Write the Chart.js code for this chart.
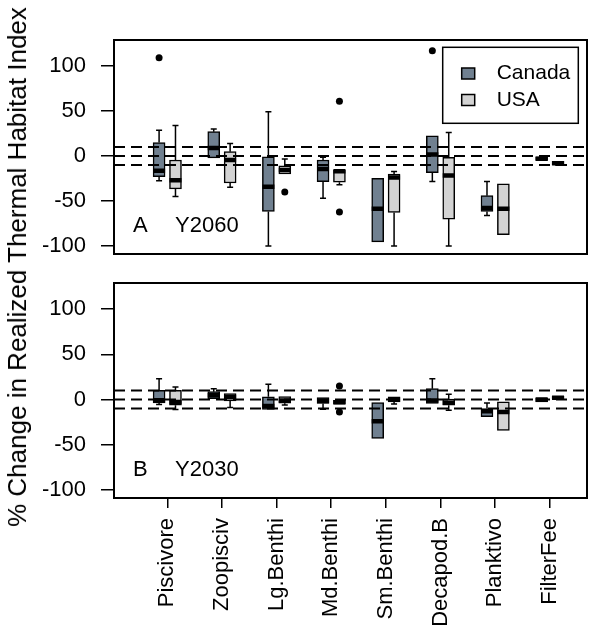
<!DOCTYPE html>
<html>
<head>
<meta charset="utf-8">
<script src="https://cdn.jsdelivr.net/npm/chart.js@4.4.1/dist/chart.umd.min.js"></script>
<style>
  body { margin: 0; background: #fff; }
  #wrap { position: relative; width: 593px; height: 643px; }
  canvas { position: absolute; left: 0; }
  #ytitle {
    position: absolute; left: 17px; top: 267px;
    transform: translate(-50%, -50%) rotate(-90deg);
    font: 26px "Liberation Sans", Arial, sans-serif;
    white-space: nowrap; line-height: 1; color: #000;
  }
</style>
</head>
<body>
<div id="wrap">
  <canvas id="panelA" width="593" height="262" style="top:0"></canvas>
  <canvas id="panelB" width="593" height="381" style="top:262px"></canvas>
  <div id="ytitle">% Change in Realized Thermal Habitat Index</div>
</div>
<script>
const groups = ['Piscivore', 'Zoopisciv', 'Lg.Benthi', 'Md.Benthi', 'Sm.Benthi', 'Decapod.B', 'Planktivo', 'FilterFee'];
const series = ['Canada', 'USA'];
const seriesColors = ['#708090', '#d3d3d3'];
const refLines = [10, 0, -10];
const yTicks = [-100, -50, 0, 50, 100];

// box stats per group: [lower whisker, q1, median, q3, upper whisker]
const canada2060 = [
  [-27.6, -23, -16.5, 15, 28.7],
  [-2, -2, 9, 27, 30],
  [-100, -61.5, -34, 0, 49],
  [-46.8, -28.4, -14.4, -4.4, -1.5],
  [-95.4, -95.4, -58.6, -24.7, -24.7],
  [-28.4, -18.4, 1.8, 22.5, 22.5],
  [-66, -61.5, -57.8, -44, -28.4],
  [-5, -5, -3, -1, -1]
];
const usa2060 = [
  [-45, -36.5, -27, -4.4, 34],
  [-34.6, -30, -4.4, 4.8, 14],
  [-20, -20, -15.5, -11, -3.3],
  [-32, -29, -17, -15.5, -15.5],
  [-100, -62.6, -24, -20, -17.3],
  [-100, -70, -21.7, -1.5, 26],
  [-87.3, -87.3, -58.6, -31, -31],
  [-10, -9.5, -8, -6, -6]
];
const canada2060Out = [[109], [], [], [], [], [117], [], []];
const usa2060Out = [[], [], [-40], [60.8, -62.2], [], [], [], []];

const canada2030 = [
  [-5.5, -3.7, -0.8, 10.3, 23],
  [1, 1, 4.7, 8.7, 12],
  [-11, -11, -7, 3, 17],
  [-10.7, -4.4, -1.5, 2.2, 2.2],
  [-43, -43, -24, -3.3, -3.3],
  [-4.4, -4.4, -1, 12, 23],
  [-19, -19, -13, -10, -3.7],
  [-2.5, -2.5, 0, 1.5, 1.5]
];
const usa2030 = [
  [-11, -6.3, -2.6, 10.3, 14],
  [-8.8, -1.5, 2.9, 6.6, 6.6],
  [-6, -4, -1, 3.3, 3.3],
  [-5, -5, -3, 0, 0],
  [-5, -2.6, 0, 2.9, 2.9],
  [-11.8, -6.3, -3.6, 0.5, 5.9],
  [-34, -34, -13.7, -2.6, -2.6],
  [0, 0, 2, 3.5, 3.5]
];
const canada2030Out = [[], [], [], [], [], [], [], []];
const usa2030Out = [[], [], [], [15, -13.7], [], [], [], []];

const FONT = '"Liberation Sans", Arial, sans-serif';
const X_MIN = 0.025, X_MAX = 8.68;
const Y_MIN = -108.8, Y_MAX = 128.8;
const SHIFT = 0.15, HALF_BOX = 0.11, HALF_CAP = 0.055;

function boxData(stats, shift) {
  return stats.map((s, i) => ({x: i + 1 + shift, y: [s[1], s[3]]}));
}

function medianData(stats, shift) {
  const pts = [];
  stats.forEach((s, i) => {
    const c = i + 1 + shift;
    pts.push({x: c - HALF_BOX, y: s[2]}, {x: c + HALF_BOX, y: s[2]}, {x: c, y: null});
  });
  return pts;
}

function whiskerData(stats, shift) {
  const pts = [];
  stats.forEach((s, i) => {
    const c = i + 1 + shift;
    if (s[4] > s[3]) {
      pts.push({x: c, y: s[3]}, {x: c, y: s[4]}, {x: c, y: null});
      pts.push({x: c - HALF_CAP, y: s[4]}, {x: c + HALF_CAP, y: s[4]}, {x: c, y: null});
    }
    if (s[0] < s[1]) {
      pts.push({x: c, y: s[1]}, {x: c, y: s[0]}, {x: c, y: null});
      pts.push({x: c - HALF_CAP, y: s[0]}, {x: c + HALF_CAP, y: s[0]}, {x: c, y: null});
    }
  });
  return pts;
}

function outlierData(outs, shift) {
  const pts = [];
  outs.forEach((list, i) => list.forEach(v => pts.push({x: i + 1 + shift, y: v})));
  return pts;
}

function refData() {
  const pts = [];
  refLines.forEach(v => pts.push({x: X_MIN, y: v}, {x: X_MAX, y: v}, {x: X_MAX, y: null}));
  return pts;
}

const panelDecor = {
  id: 'panelDecor',
  afterDraw(chart, args, opts) {
    const {ctx, chartArea: a} = chart;
    ctx.save();
    ctx.strokeStyle = '#000';
    ctx.lineWidth = 2;
    ctx.strokeRect(a.left, a.top, a.right - a.left, a.bottom - a.top);

    ctx.fillStyle = '#000';
    ctx.font = '22px ' + FONT;
    ctx.textBaseline = 'middle';
    ctx.fillText(opts.letter, a.left + 19, a.bottom - 28.5);
    ctx.fillText(opts.year, a.left + 61, a.bottom - 28.5);

    if (opts.legend) {
      const left = a.right - 144.3, top = a.top + 7.3;
      ctx.font = '21px ' + FONT;
      ctx.fillStyle = '#fff';
      ctx.fillRect(left, top, 135.6, 76);
      ctx.lineWidth = 1.5;
      ctx.strokeRect(left, top, 135.6, 76);
      series.forEach((name, k) => {
        const cy = top + 26.2 + k * 26.5;
        ctx.fillStyle = seriesColors[k];
        ctx.fillRect(left + 19, cy - 5.5, 13, 11);
        ctx.strokeRect(left + 19, cy - 5.5, 13, 11);
        ctx.fillStyle = '#000';
        ctx.fillText(name, left + 54, cy);
      });
    }
    ctx.restore();
  }
};

function drawPanel(id, can, usa, canOut, usaOut, letter, year, showX, legend) {
  new Chart(document.getElementById(id), {
    type: 'bar',
    data: {
      datasets: [
        {type: 'line', data: refData(), borderColor: '#000', borderWidth: 2, borderDash: [11, 6],
          pointRadius: 0, order: 0},
        {type: 'line', data: medianData(can, -SHIFT).concat(medianData(usa, SHIFT)), borderColor: '#000',
          borderWidth: 4.5, borderCapStyle: 'butt', pointRadius: 0, order: 1},
        {type: 'scatter', data: outlierData(canOut, -SHIFT).concat(outlierData(usaOut, SHIFT)),
          pointRadius: 3.5, backgroundColor: '#000', borderWidth: 0, order: 1},
        {label: series[0], data: boxData(can, -SHIFT), backgroundColor: seriesColors[0], borderColor: '#000',
          borderWidth: 1.5, borderSkipped: false, barThickness: 12, grouped: false, order: 2},
        {label: series[1], data: boxData(usa, SHIFT), backgroundColor: seriesColors[1], borderColor: '#000',
          borderWidth: 1.5, borderSkipped: false, barThickness: 12, grouped: false, order: 2},
        {type: 'line', data: whiskerData(can, -SHIFT).concat(whiskerData(usa, SHIFT)), borderColor: '#000',
          borderWidth: 1.5, pointRadius: 0, order: 3}
      ]
    },
    options: {
      responsive: false,
      animation: false,
      layout: {padding: showX ? {top: 21, right: 6, bottom: 0, left: 0} : {top: 40, right: 6, bottom: 8, left: 0}},
      plugins: {
        legend: {display: false},
        tooltip: {enabled: false},
        panelDecor: {letter, year, legend}
      },
      scales: {
        x: {
          type: 'linear', min: X_MIN, max: X_MAX, offset: false, display: showX,
          afterBuildTicks: s => { s.ticks = groups.map((g, i) => ({value: i + 1})); },
          afterFit: s => {
            if (showX) s.height = 145;
            s.paddingLeft = 0;
            s.paddingRight = 0;
          },
          ticks: {autoSkip: false, minRotation: 90, maxRotation: 90, padding: 10, color: '#000',
            font: {family: FONT, size: 22}, callback: (v, i) => groups[i]},
          grid: {drawOnChartArea: false, offset: false, tickLength: 10, color: '#000', lineWidth: 1.5},
          border: {display: false}
        },
        y: {
          min: Y_MIN, max: Y_MAX,
          afterBuildTicks: s => { s.ticks = yTicks.map(v => ({value: v})); },
          afterFit: s => {
            s.width = 114;
            s.paddingTop = 0;
            s.paddingBottom = 0;
          },
          ticks: {padding: 15, color: '#000', font: {family: FONT, size: 22}, callback: v => String(v)},
          grid: {drawOnChartArea: false, tickLength: 13, color: '#000', lineWidth: 1.5},
          border: {display: false}
        }
      }
    },
    plugins: [panelDecor]
  });
}

drawPanel('panelA', canada2060, usa2060, canada2060Out, usa2060Out, 'A', 'Y2060', false, true);
drawPanel('panelB', canada2030, usa2030, canada2030Out, usa2030Out, 'B', 'Y2030', true, false);
</script>
</body>
</html>
